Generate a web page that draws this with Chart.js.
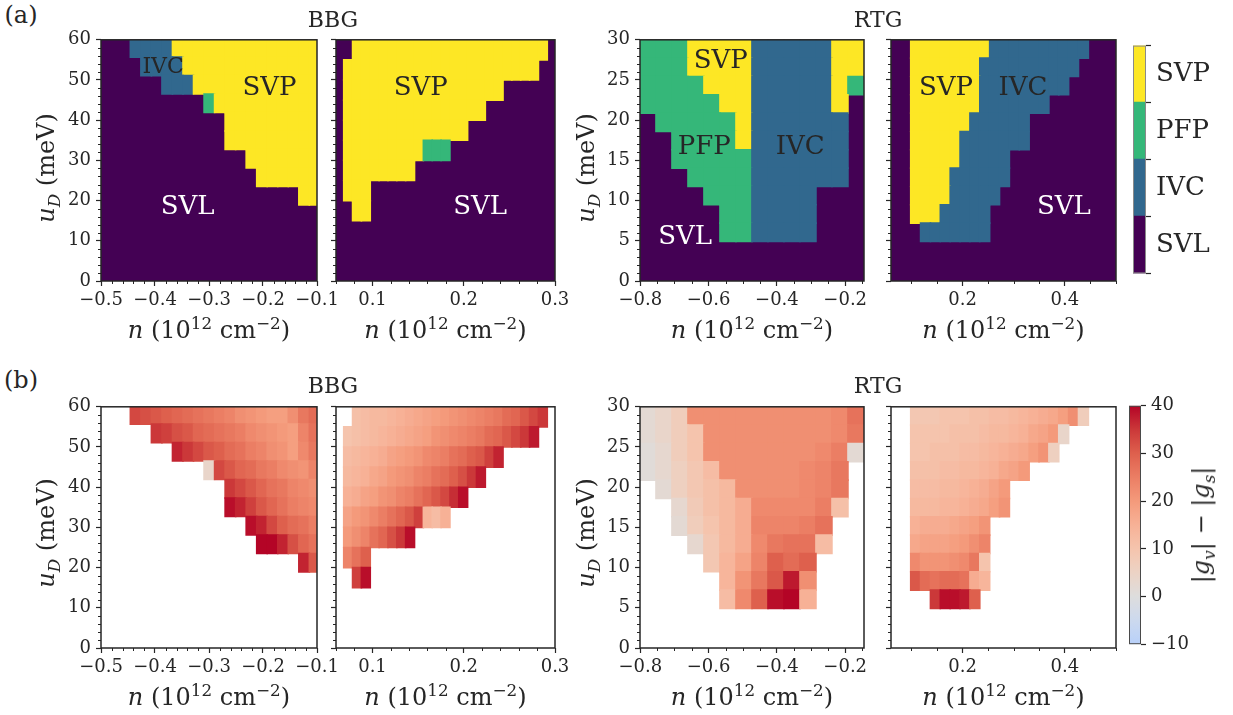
<!DOCTYPE html>
<html>
<head>
<meta charset="utf-8">
<title>BBG / RTG phase maps</title>
<script src="https://cdn.jsdelivr.net/npm/chart.js@4.4.1/dist/chart.umd.min.js"></script>
<style>
  body { margin: 0; background: #fff; }
  #fig { position: relative; width: 1233px; height: 715px; overflow: hidden;
         font-family: 'DejaVu Serif', serif; color: #262626; background: #fff; }
  #fig canvas { position: absolute; }
  .lbl { position: absolute; white-space: nowrap; line-height: 1; transform: translate(-50%, -50%); }
  .lbl.rot { transform: translate(-50%, -50%) rotate(-90deg); }
  sub, sup { font-size: 70%; line-height: 0; }
</style>
</head>
<body>
<div id="fig"></div>
<script>
const _ = null;

// ---- BBG, hole side: column centres (n), row centres (u_D, top row first) ----
const nBBGh = [-0.4359, -0.4164, -0.3969, -0.3774, -0.3579, -0.3384, -0.3189, -0.2994, -0.2799,
               -0.2604, -0.2409, -0.2214, -0.2019, -0.1824, -0.1629, -0.1434, -0.1239, -0.1044];
const uBBGh = [58.0, 53.4, 48.8, 44.2, 39.6, 35.0, 30.4, 25.8, 21.2];
const duBBGh = 4.6;
// L = SVL, I = IVC, F = PFP, S = SVP (missing tail = SVL)
const phaseBBGh = [
  'IIIISSSSSSSSSSSSSS',
  'LIIIISSSSSSSSSSSSS',
  'LLLIIISSSSSSSSSSSS',
  'LLLLLLLFSSSSSSSSSS',
  'LLLLLLLLLSSSSSSSSS',
  'LLLLLLLLLSSSSSSSSS',
  'LLLLLLLLLLLSSSSSSS',
  'LLLLLLLLLLLLSSSSSS',
  'LLLLLLLLLLLLLLLLSS'
];
const gapBBGh = [
  [33, 32, 31, 30, 29, 28, 27, 26, 25, 24, 22, 21, 20, 19, 19, 22, 26, 28],
  [_, _, 35, 34, 32, 31, 29, 28, 27, 26, 25, 23, 22, 21, 20, 19, 24, 27],
  [_, _, _, _, 37, 35, 33, 31, 30, 28, 27, 25, 24, 22, 21, 19, 23, 26],
  [_, _, _, _, _, _, _, 4, 33, 31, 29, 28, 26, 25, 23, 22, 21, 24],
  [_, _, _, _, _, _, _, _, _, 35, 33, 31, 29, 27, 26, 24, 23, 22],
  [_, _, _, _, _, _, _, _, _, 39, 37, 34, 31, 29, 27, 25, 24, 23],
  [_, _, _, _, _, _, _, _, _, _, _, 39, 37, 33, 30, 28, 27, 25],
  [_, _, _, _, _, _, _, _, _, _, _, _, 40, 40, 37, 32, 29, 27],
  [_, _, _, _, _, _, _, _, _, _, _, _, _, _, _, _, 37, 31]
];

// ---- BBG, electron side ----
const nBBGe = [0.0733, 0.0830, 0.0927, 0.1024, 0.1121, 0.1218, 0.1315, 0.1412, 0.1509, 0.1606,
               0.1703, 0.1800, 0.1897, 0.1994, 0.2091, 0.2188, 0.2285, 0.2382, 0.2479, 0.2576,
               0.2673, 0.2770, 0.2867];
const uBBGe = [57.5, 52.5, 47.5, 42.5, 37.5, 32.5, 27.5, 22.5, 17.5];
const duBBGe = 5;
const phaseBBGe = [
  'LSSSSSSSSSSSSSSSSSSSSSS',
  'SSSSSSSSSSSSSSSSSSSSSS',
  'SSSSSSSSSSSSSSSSSS',
  'SSSSSSSSSSSSSSSS',
  'SSSSSSSSSSSSSS',
  'SSSSSSSSSFFF',
  'SSSSSSSS',
  'SSS',
  'LSS'
];
const gapBBGe = [
  [_, 11, 12, 13, 13, 14, 15, 16, 17, 18, 19, 20, 21, 22, 23, 24, 25, 26, 28, 29, 31, 33, 35],
  [10, 11, 12, 13, 14, 15, 16, 17, 18, 19, 21, 22, 23, 24, 25, 26, 28, 29, 31, 33, 35, 38],
  [12, 13, 14, 15, 16, 18, 19, 20, 21, 23, 24, 25, 27, 28, 30, 31, 34, 37],
  [13, 14, 15, 17, 18, 20, 21, 22, 24, 25, 27, 28, 30, 32, 35, 38],
  [15, 16, 18, 19, 21, 22, 24, 25, 27, 29, 31, 33, 36, 39],
  [18, 20, 21, 23, 25, 27, 29, 31, 34, 14, 12, 15],
  [20, 22, 24, 27, 29, 32, 35, 39],
  [24, 27, 30],
  [_, 34, 39]
];

// ---- RTG, hole side ----
const nRTGh = [-0.7777, -0.7308, -0.6840, -0.6371, -0.5903, -0.5434, -0.4965, -0.4497, -0.4028,
               -0.3560, -0.3091, -0.2623, -0.2154, -0.1685];
const uRTG = [28.86, 26.58, 24.30, 22.02, 19.74, 17.46, 15.18, 12.90, 10.62, 8.34, 6.06];
const duRTG = 2.28;
const phaseRTGh = [
  'FFFSSSSIIIIISS',
  'FFFSSSSIIIIISS',
  'FFFFSSSIIIIISF',
  'FFFFFSSIIIIIS',
  'LFFFFFSIIIIII',
  'LLFFFFSIIIIII',
  'LLFFFFFIIIIII',
  'LLLFFFFIIIIII',
  'LLLLFFFIIII',
  'LLLLLFFIIII',
  'LLLLLFFIIII'
];
const gapRTGh = [
  [2, 4, 7, 22, 22, 22, 22, 22, 22, 22, 22, 22, 23, 27],
  [2, 4, 7, 10, 22, 22, 22, 22, 22, 22, 22, 22, 23, 26],
  [1, 3, 7, 10, 22, 22, 22, 22, 22, 22, 22, 23, 25, 2],
  [1, 3, 6, 9, 12, 22, 22, 22, 22, 22, 23, 24, 26],
  [_, 2, 6, 9, 11, 13, 22, 22, 22, 22, 23, 24, 26],
  [_, _, 3, 8, 11, 13, 16, 23, 23, 23, 23, 25, 11],
  [_, _, 2, 7, 10, 13, 16, 24, 24, 24, 25, 27],
  [_, _, _, 3, 9, 13, 16, 23, 26, 27, 27, 12],
  [_, _, _, _, 9, 14, 18, 24, 30, 28, 30],
  [_, _, _, _, _, 14, 21, 26, 31, 38, 22],
  [_, _, _, _, _, 12, 23, 30, 39, 40, 15]
];

// ---- RTG, electron side ----
const nRTGe = [0.1082, 0.1275, 0.1468, 0.1661, 0.1854, 0.2047, 0.2240, 0.2433, 0.2626, 0.2819,
               0.3012, 0.3205, 0.3398, 0.3591, 0.3784, 0.3977, 0.4170, 0.4363];
const phaseRTGe = [
  'SSSSSSSSIIIIIIIIII',
  'SSSSSSSIIIIIIIIII',
  'SSSSSSSIIIIIIIII',
  'SSSSSSSIIIIIII',
  'SSSSSSIIIIII',
  'SSSSSIIIIIII',
  'SSSSSIIIII',
  'SSSSIIIIII',
  'SSSSIIIII',
  'SSSIIIII',
  'LIIIIIII'
];
const gapRTGe = [
  [9, 9, 9, 10, 10, 10, 11, 11, 12, 12, 13, 14, 15, 16, 17, 19, 22, 7],
  [10, 10, 10, 10, 11, 11, 11, 12, 13, 13, 14, 15, 17, 18, 20, 4],
  [10, 10, 11, 11, 11, 12, 12, 13, 14, 15, 16, 17, 19, 21, 6],
  [11, 11, 11, 12, 12, 13, 13, 14, 15, 17, 18, 20],
  [12, 12, 12, 13, 13, 14, 15, 16, 18, 20],
  [13, 13, 13, 14, 14, 15, 16, 17, 19, 21],
  [15, 16, 16, 16, 17, 18, 19, 21],
  [17, 18, 18, 18, 19, 20, 22, 24],
  [23, 21, 21, 21, 22, 23, 26, 10],
  [31, 28, 27, 28, 28, 27, 16, 14],
  [_, _, 35, 39, 39, 38, 30]
];

// ---- ticks ----
const xTicksBBGh = [-0.5, -0.4, -0.3, -0.2, -0.1];
const xTicksBBGe = [0.1, 0.2, 0.3];
const xTicksRTGh = [-0.8, -0.6, -0.4, -0.2];
const xTicksRTGe = [0.2, 0.4];
const yTicksBBG = [0, 10, 20, 30, 40, 50, 60];
const yTicksRTG = [0, 5, 10, 15, 20, 25, 30];
const gapTicks = [-10, 0, 10, 20, 30, 40];
const phaseOrder = ['L', 'I', 'F', 'S'];
const phaseNames = { L: 'SVL', I: 'IVC', F: 'PFP', S: 'SVP' };

// ---- styling ----
const INK = '#262626';
const FONT = 'DejaVu Serif';
const TICK_SIZE = 18;
const phaseColors = { L: '#440154', I: '#31688e', F: '#35b779', S: '#fde725' };
// coolwarm, normalised on [-40, 40]
const CW = [[0.375, 184, 208, 249], [0.4375, 204, 217, 238], [0.5, 221, 221, 221],
            [0.5625, 236, 211, 197], [0.625, 245, 196, 173], [0.6875, 247, 177, 150],
            [0.75, 244, 154, 123], [0.8125, 235, 126, 100], [0.875, 222, 96, 77],
            [0.9375, 203, 56, 57], [1, 180, 4, 38]];
function coolwarm(v) {
  const t = Math.min(1, Math.max(CW[0][0], (v + 40) / 80));
  for (let i = 1; i < CW.length; i++) {
    if (t <= CW[i][0]) {
      const a = CW[i - 1], b = CW[i], f = (t - a[0]) / (b[0] - a[0]);
      const c = k => Math.round(a[k] + f * (b[k] - a[k]));
      return `rgb(${c(1)},${c(2)},${c(3)})`;
    }
  }
  return 'rgb(180,4,38)';
}

function phaseCells(ns, us, du, rows) {
  const out = [];
  rows.forEach((row, i) => [...row].forEach((p, j) => {
    if (p !== 'L') out.push({ x: ns[j], y: [us[i] - du / 2, us[i] + du / 2], color: phaseColors[p] });
  }));
  return out;
}
function gapCells(ns, us, du, rows) {
  const out = [];
  rows.forEach((row, i) => row.forEach((v, j) => {
    if (v !== null) out.push({ x: ns[j], y: [us[i] - du / 2, us[i] + du / 2], color: coolwarm(v) });
  }));
  return out;
}

const fig = document.getElementById('fig');
const YW = 62, PT = 12, PR = 30, XH = 50;
const fmtX = v => (Math.round(v * 10) / 10).toFixed(1).replace('-', '\u2212');
const fmtY = v => String(v).replace('-', '\u2212');

function minorValues(min, max, step, majors) {
  const out = [];
  for (let k = Math.ceil(min / step - 1e-6); k <= Math.floor(max / step + 1e-6); k++) {
    const v = k * step;
    if (!majors.some(m => Math.abs(m - v) < step / 10)) out.push(v);
  }
  return out;
}

function decor(cfg) {
  return {
    id: 'decor',
    beforeDatasetsDraw(chart) {
      if (!cfg.bg) return;
      const a = chart.chartArea, c = chart.ctx;
      c.save();
      c.fillStyle = cfg.bg;
      c.fillRect(a.left, a.top, a.width, a.height);
      c.restore();
    },
    afterDraw(chart) {
      const a = chart.chartArea, c = chart.ctx, sx = chart.scales.x, sy = chart.scales.y;
      c.save();
      c.strokeStyle = INK;
      c.lineWidth = 1;
      c.beginPath();
      minorValues(sx.min, sx.max, cfg.xMinor, cfg.xTicks).forEach(v => {
        const p = Math.round(sx.getPixelForValue(v)) + 0.5;
        c.moveTo(p, a.bottom); c.lineTo(p, a.bottom + 3);
      });
      minorValues(sy.min, sy.max, cfg.yMinor, cfg.yTicks).forEach(v => {
        const p = Math.round(sy.getPixelForValue(v)) + 0.5;
        c.moveTo(a.left, p); c.lineTo(a.left - 3, p);
      });
      c.stroke();
      c.lineWidth = 1.5;
      c.strokeRect(a.left, a.top, a.width, a.height);
      (cfg.names || []).forEach(nm => {
        c.font = `${nm.size || 26}px "${FONT}"`;
        c.fillStyle = nm.light ? '#ffffff' : INK;
        c.textAlign = 'center';
        c.textBaseline = 'middle';
        c.fillText(nm.text, sx.getPixelForValue(nm.n), sy.getPixelForValue(nm.u));
      });
      c.restore();
    }
  };
}

function heatPanel(cfg) {
  const [L, T, W, H] = cfg.box;
  const cv = document.createElement('canvas');
  cv.width = YW + W + PR;
  cv.height = PT + H + XH;
  cv.style.left = (L - YW) + 'px';
  cv.style.top = (T - PT) + 'px';
  fig.appendChild(cv);
  const tickFont = { family: FONT, size: TICK_SIZE };
  new Chart(cv, {
    type: 'bar',
    data: {
      datasets: [{
        data: cfg.cells.map(c => ({ x: c.x, y: c.y })),
        backgroundColor: cfg.cells.map(c => c.color),
        borderWidth: 0,
        inflateAmount: 0.8,
        grouped: false,
        barPercentage: 1,
        categoryPercentage: 1
      }]
    },
    options: {
      responsive: false,
      animation: false,
      events: [],
      layout: { padding: { left: 0, top: PT, right: PR, bottom: 0 } },
      plugins: { legend: { display: false }, tooltip: { enabled: false } },
      scales: {
        x: {
          type: 'linear', min: cfg.x[0], max: cfg.x[1], offset: false,
          afterBuildTicks: s => { s.ticks = cfg.xTicks.map(v => ({ value: v })); },
          afterFit: s => { s.height = XH; },
          grid: { drawOnChartArea: false, tickLength: 5, tickWidth: 1.2, tickColor: INK, offset: false },
          border: { display: false },
          ticks: { autoSkip: false, maxRotation: 0, padding: 4, color: INK, font: tickFont, callback: v => fmtX(v) }
        },
        y: {
          type: 'linear', min: cfg.y[0], max: cfg.y[1],
          afterBuildTicks: s => { s.ticks = cfg.yTicks.map(v => ({ value: v })); },
          afterFit: s => { s.width = YW; },
          grid: { drawOnChartArea: false, tickLength: 5, tickWidth: 1.2, tickColor: INK },
          border: { display: false },
          ticks: { autoSkip: false, padding: 5, color: INK, font: tickFont,
                   callback: v => (cfg.yLabels ? fmtY(v) : '') }
        }
      }
    },
    plugins: [decor(cfg)]
  });
}

const rowA = 36, rowB = 403, PH = 245;
const cols = { bh: [101, 216], be: [336, 219], rh: [640, 224], re: [891, 225] };
const common = {
  bh: { x: [-0.5, -0.1], xTicks: xTicksBBGh, xMinor: 0.02, y: [0, 60], yTicks: yTicksBBG, yMinor: 2, yLabels: true },
  be: { x: [0.06, 0.3], xTicks: xTicksBBGe, xMinor: 0.02, y: [0, 60], yTicks: yTicksBBG, yMinor: 2, yLabels: false },
  rh: { x: [-0.801, -0.145], xTicks: xTicksRTGh, xMinor: 0.05, y: [0, 30], yTicks: yTicksRTG, yMinor: 1, yLabels: true },
  re: { x: [0.06, 0.5], xTicks: xTicksRTGe, xMinor: 0.05, y: [0, 30], yTicks: yTicksRTG, yMinor: 1, yLabels: false }
};

// (a) phase maps
heatPanel({ ...common.bh, box: [cols.bh[0], rowA, cols.bh[1], PH], bg: phaseColors.L,
  cells: phaseCells(nBBGh, uBBGh, duBBGh, phaseBBGh),
  names: [{ text: 'IVC', n: -0.385, u: 53.1, size: 22 }, { text: 'SVP', n: -0.188, u: 48.0 },
          { text: 'SVL', n: -0.3395, u: 18.4, light: true }] });
heatPanel({ ...common.be, box: [cols.be[0], rowA, cols.be[1], PH], bg: phaseColors.L,
  cells: phaseCells(nBBGe, uBBGe, duBBGe, phaseBBGe),
  names: [{ text: 'SVP', n: 0.1528, u: 48.0 }, { text: 'SVL', n: 0.2179, u: 18.4, light: true }] });
heatPanel({ ...common.rh, box: [cols.rh[0], rowA, cols.rh[1], PH], bg: phaseColors.L,
  cells: phaseCells(nRTGh, uRTG, duRTG, phaseRTGh),
  names: [{ text: 'SVP', n: -0.5647, u: 27.3 }, { text: 'PFP', n: -0.613, u: 16.65 },
          { text: 'IVC', n: -0.332, u: 16.65 }, { text: 'SVL', n: -0.669, u: 5.42, light: true }] });
heatPanel({ ...common.re, box: [cols.re[0], rowA, cols.re[1], PH], bg: phaseColors.L,
  cells: phaseCells(nRTGe, uRTG, duRTG, phaseRTGe),
  names: [{ text: 'SVP', n: 0.1675, u: 24.0 }, { text: 'IVC', n: 0.318, u: 24.0 },
          { text: 'SVL', n: 0.398, u: 9.18, light: true }] });

// (b) |g_v| - |g_s|
heatPanel({ ...common.bh, box: [cols.bh[0], rowB, cols.bh[1], PH], cells: gapCells(nBBGh, uBBGh, duBBGh, gapBBGh) });
heatPanel({ ...common.be, box: [cols.be[0], rowB, cols.be[1], PH], cells: gapCells(nBBGe, uBBGe, duBBGe, gapBBGe) });
heatPanel({ ...common.rh, box: [cols.rh[0], rowB, cols.rh[1], PH], cells: gapCells(nRTGh, uRTG, duRTG, gapRTGh) });
heatPanel({ ...common.re, box: [cols.re[0], rowB, cols.re[1], PH], cells: gapCells(nRTGe, uRTG, duRTG, gapRTGe) });

// colour bars
function colorbar(box, yRange, ticks, labelFn, tickColorFn, fontSize, datasets, outline) {
  const [L, T, W, H] = box;
  const RW = 110, pad = 12;
  const cv = document.createElement('canvas');
  cv.width = W + RW;
  cv.height = H + 2 * pad;
  cv.style.left = L + 'px';
  cv.style.top = (T - pad) + 'px';
  fig.appendChild(cv);
  new Chart(cv, {
    type: 'bar',
    data: { labels: ['cb'], datasets },
    options: {
      responsive: false, animation: false, events: [],
      layout: { padding: { left: 0, right: 0, top: pad, bottom: pad } },
      plugins: { legend: { display: false }, tooltip: { enabled: false } },
      scales: {
        x: { display: false },
        y: {
          position: 'right', min: yRange[0], max: yRange[1],
          afterBuildTicks: s => { s.ticks = ticks.map(v => ({ value: v })); },
          afterFit: s => { s.width = RW; },
          grid: { drawOnChartArea: false, tickLength: 5, tickWidth: 1.2, tickColor: tickColorFn },
          border: { display: false },
          ticks: { autoSkip: false, padding: 5, color: INK, font: { family: FONT, size: fontSize }, callback: labelFn }
        }
      }
    },
    plugins: [{
      id: 'outline',
      afterDraw(chart) {
        const a = chart.chartArea, c = chart.ctx;
        c.save();
        c.strokeStyle = outline;
        c.lineWidth = 1;
        c.strokeRect(a.left + 0.5, a.top + 0.5, a.width - 1, a.height - 1);
        c.restore();
      }
    }]
  });
}

colorbar([1133, 37, 13, 245], [0, phaseOrder.length],
  phaseOrder.flatMap((p, i) => [i, i + 0.5]).concat(phaseOrder.length),
  v => (v % 1 ? phaseNames[phaseOrder[Math.floor(v)]] : ''),
  ctx => (ctx.tick && ctx.tick.value % 1 ? 'rgba(0,0,0,0)' : INK),
  26,
  phaseOrder.map((p, i) => ({
    label: phaseNames[p], data: [[i, i + 1]], backgroundColor: phaseColors[p],
    borderWidth: 0, inflateAmount: 0.8, grouped: false, barPercentage: 1, categoryPercentage: 1
  })), '#8a8a8a');

colorbar([1129, 402, 12, 246], [gapTicks[0], gapTicks[gapTicks.length - 1]], gapTicks,
  v => fmtY(v), INK, TICK_SIZE,
  [{
    label: '|g_v| - |g_s|',
    data: [[gapTicks[0], gapTicks[gapTicks.length - 1]]],
    borderWidth: 0, grouped: false, barPercentage: 1, categoryPercentage: 1,
    backgroundColor: ctx => {
      const chart = ctx.chart, s = chart.scales.y;
      if (!chart.chartArea || !s) return INK;
      const lo = gapTicks[0], hi = gapTicks[gapTicks.length - 1];
      const g = chart.ctx.createLinearGradient(0, s.getPixelForValue(lo), 0, s.getPixelForValue(hi));
      for (let k = 0; k <= 20; k++) {
        const v = lo + (hi - lo) * k / 20;
        g.addColorStop(k / 20, coolwarm(v));
      }
      return g;
    }
  }], '#4a4a4a');

// text: panel tags, titles and axis labels
function label(html, x, y, size, rot) {
  const d = document.createElement('div');
  d.className = 'lbl' + (rot ? ' rot' : '');
  d.style.left = x + 'px';
  d.style.top = y + 'px';
  d.style.fontSize = size + 'px';
  d.innerHTML = html;
  fig.appendChild(d);
}
const xTitle = '<i>n</i> (10<sup>12</sup> cm<sup>\u22122</sup>)';
const yTitle = '<i>u</i><sub><i>D</i></sub> (meV)';
label('(a)', 21, 15, 24);
label('(b)', 21, 380, 24);
[[20, 168, 330], [386, 533, 697]].forEach(([ty, yy, xy]) => {
  label('BBG', 333, ty, 22);
  label('RTG', 878, ty, 22);
  label(yTitle, 46, yy, 24, true);
  label(yTitle, 586, yy, 24, true);
  Object.values(cols).forEach(([L, W]) => label(xTitle, L + W / 2, xy, 24));
});
label('|<i>g</i><sub><i>v</i></sub>| \u2212 |<i>g</i><sub><i>s</i></sub>|', 1201, 525, 24, true);
</script>
</body>
</html>
